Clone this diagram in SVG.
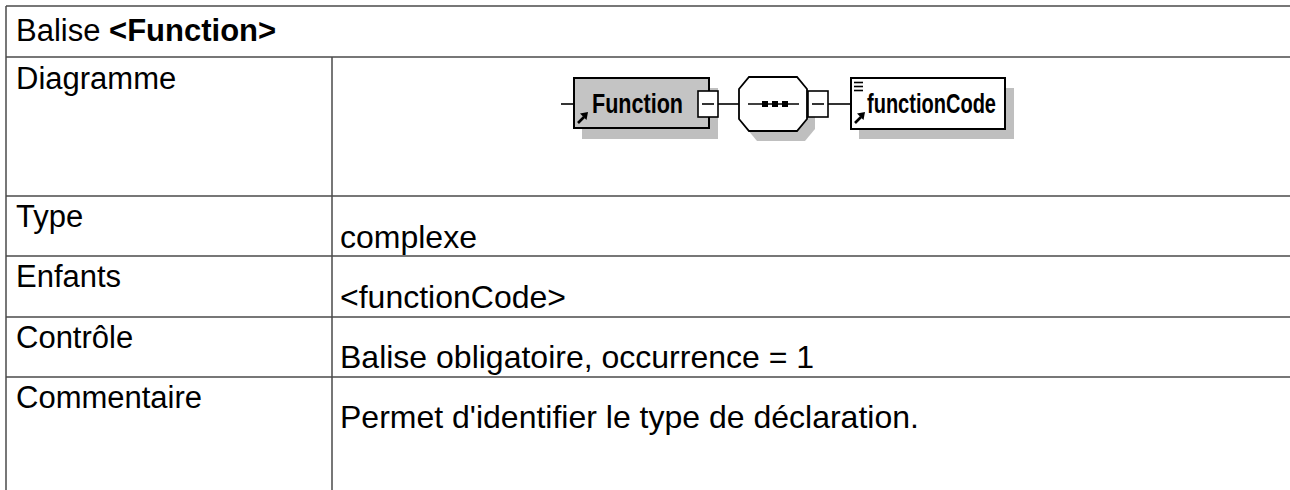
<svg xmlns="http://www.w3.org/2000/svg" width="1290" height="490" viewBox="0 0 1290 490">
<style>
.grid{stroke:#4a4a4a;stroke-width:1.5;fill:none}
.lbl{font-family:"Liberation Sans",Arial,sans-serif;font-size:31px;fill:#000}
.val{font-family:"Liberation Sans",Arial,sans-serif;font-size:32px;fill:#000}
.box{stroke:#000;stroke-width:2;}
.shadow{fill:#bfbfbf}
.conn{stroke:#000;stroke-width:1.6;fill:none}
.name{font-family:"Liberation Sans",Arial,sans-serif;font-weight:bold;font-size:27px;fill:#000}
.minus{fill:#fff;stroke:#000;stroke-width:1.6}
.icon{stroke:#000;stroke-width:2.6}
</style>
<rect width="1290" height="490" fill="#fff"/>
<g id="table">
<line class="grid" x1="6" y1="6" x2="1290" y2="6"/>
<line class="grid" x1="6" y1="57" x2="1290" y2="57"/>
<line class="grid" x1="6" y1="196" x2="1290" y2="196"/>
<line class="grid" x1="6" y1="256" x2="1290" y2="256"/>
<line class="grid" x1="6" y1="317" x2="1290" y2="317"/>
<line class="grid" x1="6" y1="377" x2="1290" y2="377"/>
<line class="grid" x1="6" y1="6" x2="6" y2="490"/>
<line class="grid" x1="332" y1="57" x2="332" y2="490"/>
<text class="lbl" x="16" y="41">Balise <tspan font-weight="bold">&lt;Function&gt;</tspan></text>
<text class="lbl" x="16" y="89">Diagramme</text>
<text class="lbl" x="16" y="227">Type</text>
<text class="lbl" x="16" y="287">Enfants</text>
<text class="lbl" x="16" y="348">Contrôle</text>
<text class="lbl" x="16" y="408">Commentaire</text>
<text class="val" x="340" y="248">complexe</text>
<text class="val" x="340" y="308">&lt;functionCode&gt;</text>
<text class="val" x="340" y="368">Balise obligatoire, occurrence = 1</text>
<text class="val" x="340" y="428">Permet d'identifier le type de déclaration.</text>
</g>
<g id="connectors">
<line class="conn" x1="561" y1="104" x2="574" y2="104"/>
<line class="conn" x1="718" y1="104" x2="739" y2="104"/>
<line class="conn" x1="828" y1="104" x2="851" y2="104"/>
</g>
<g id="node-function">
<rect class="shadow" x="582" y="88" width="136" height="51"/>
<rect class="box" x="574" y="78" width="135" height="50" fill="#c4c4c4"/>
<text class="name" x="592" y="113" textLength="91" lengthAdjust="spacingAndGlyphs">Function</text>
<path class="icon" d="M578 123 L584 117"/>
<polygon points="580,113.5 588,112 586.5,120" fill="#000"/>
<rect class="minus" x="698" y="91" width="20" height="26"/>
<line x1="702" y1="104" x2="714" y2="104" stroke="#000" stroke-width="1.6"/>
</g>
<g id="node-sequence">
<polygon class="shadow" points="757,87 805,87 815,99 815,129 805,141 757,141 747,129 747,99"/>
<polygon points="749,77 797,77 807,89 807,119 797,131 749,131 739,119 739,89" fill="#fff" stroke="#000" stroke-width="1.8"/>
<line x1="748" y1="104" x2="799" y2="104" stroke="#000" stroke-width="1.6"/>
<rect x="762" y="101" width="6" height="6" fill="#000"/>
<rect x="772" y="101" width="6" height="6" fill="#000"/>
<rect x="782" y="101" width="6" height="6" fill="#000"/>
<rect class="minus" x="808" y="91" width="20" height="26"/>
<line x1="812" y1="104" x2="824" y2="104" stroke="#000" stroke-width="1.6"/>
</g>
<g id="node-functionCode">
<rect class="shadow" x="859" y="88" width="155" height="51"/>
<rect class="box" x="851" y="78" width="154" height="51" fill="#fff"/>
<line x1="854" y1="82.5" x2="863" y2="82.5" stroke="#000" stroke-width="1.6"/>
<line x1="854" y1="86.5" x2="863" y2="86.5" stroke="#000" stroke-width="1.6"/>
<line x1="854" y1="90.5" x2="863" y2="90.5" stroke="#000" stroke-width="1.6"/>
<text class="name" x="867" y="113" textLength="129" lengthAdjust="spacingAndGlyphs">functionCode</text>
<path class="icon" d="M855 123 L861 117"/>
<polygon points="857,113.5 865,112 863.5,120" fill="#000"/>
</g>
</svg>
